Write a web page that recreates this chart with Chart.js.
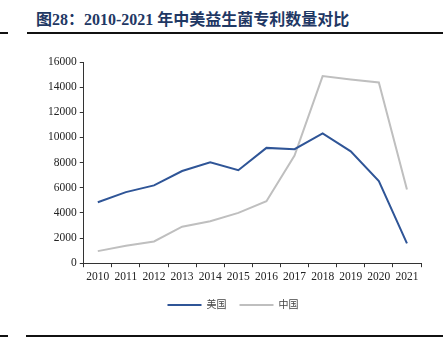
<!DOCTYPE html>
<html>
<head>
<meta charset="utf-8">
<script src="https://cdn.jsdelivr.net/npm/chart.js@4"></script>
<style>
  body { margin: 0; background: #fff; width: 443px; height: 342px; position: relative; overflow: hidden; }
  #title { position: absolute; left: 36px; top: 6px; font: bold 16px "Liberation Serif", "Noto Sans CJK SC", serif; color: #1f3864; white-space: nowrap; }
  .rule { position: absolute; height: 2px; background: #111; }
  #box { position: absolute; left: 0; top: 46px; width: 443px; height: 274px; }
</style>
</head>
<body>
<div id="title">图28：2010-2021 年中美益生菌专利数量对比</div>
<div class="rule" style="left:0;top:32px;width:8px"></div>
<div class="rule" style="left:27px;top:32px;width:416px"></div>
<div class="rule" style="left:0;top:335px;width:8px"></div>
<div class="rule" style="left:26px;top:335px;width:417px"></div>
<div id="box"><canvas id="myChart"></canvas></div>
<script>
const years = ['2010','2011','2012','2013','2014','2015','2016','2017','2018','2019','2020','2021'];
const usa = [4850, 5650, 6190, 7330, 8030, 7390, 9170, 9070, 10320, 8900, 6530, 1570];
const china = [960, 1390, 1730, 2900, 3330, 4000, 4930, 8560, 14880, 14610, 14370, 5870];
const yTicks = [0, 2000, 4000, 6000, 8000, 10000, 12000, 14000, 16000];

const serif = '"Liberation Serif", "Noto Sans CJK SC", serif';

new Chart(document.getElementById('myChart'), {
  type: 'line',
  data: {
    labels: years,
    datasets: [{
      label: '美国',
      data: usa,
      borderColor: '#2f5597',
      backgroundColor: '#2f5597',
      borderWidth: 2,
      pointRadius: 0,
      tension: 0
    }, {
      label: '中国',
      data: china,
      borderColor: '#bfbfbf',
      backgroundColor: '#bfbfbf',
      borderWidth: 2,
      pointRadius: 0,
      tension: 0
    }]
  },
  options: {
    responsive: true,
    maintainAspectRatio: false,
    animation: false,
    layout: { padding: { left: 45, right: 22, top: 16, bottom: 0 } },
    plugins: {
      tooltip: { enabled: false },
      legend: {
        position: 'bottom',
        labels: {
          usePointStyle: true,
          pointStyle: 'line',
          pointStyleWidth: 34,
          boxWidth: 34,
          padding: 13,
          color: '#444',
          font: { family: serif, size: 10 }
        }
      }
    },
    scales: {
      x: {
        offset: true,
        grid: { display: true, offset: true, drawOnChartArea: false, color: '#333', tickLength: 4 },
        border: { color: '#333', width: 1 },
        ticks: { color: '#222', font: { family: serif, size: 11.5 }, maxRotation: 0, autoSkip: false, padding: 3 }
      },
      y: {
        min: 0,
        max: 16000,
        afterBuildTicks: axis => { axis.ticks = yTicks.map(v => ({ value: v })); },
        grid: { display: true, drawOnChartArea: false, color: '#333', tickLength: 4 },
        border: { color: '#333', width: 1 },
        ticks: { color: '#222', font: { family: serif, size: 11.5 }, padding: 3, callback: v => String(v) }
      }
    }
  }
});
</script>
</body>
</html>
